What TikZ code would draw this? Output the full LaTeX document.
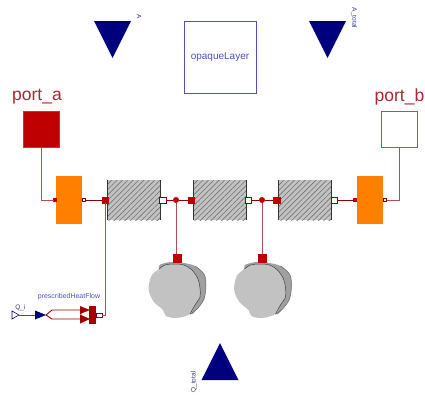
\documentclass[tikz,border=0pt]{standalone}
\usepackage{fontspec}
\setmainfont{Liberation Sans}
\usepackage{xcolor}
\usepackage{tikz}
\usetikzlibrary{shapes.geometric,patterns.meta}
\definecolor{heatred}{RGB}{191,0,0}
\definecolor{wirered}{RGB}{176,80,80}
\definecolor{titlered}{RGB}{165,40,50}
\definecolor{flowblue}{RGB}{0,0,127}
\definecolor{labelblue}{RGB}{80,80,190}
\definecolor{blobfront}{RGB}{194,194,194}
\definecolor{blobback}{RGB}{160,160,160}
\tikzset{
  wire/.style={draw=wirered,line width=0.9pt},
  portfull/.style={draw=heatred,fill=heatred,minimum size=#1,inner sep=0pt,outer sep=0pt},
  portopen/.style={draw=heatred!70!black,fill=white,line width=0.6pt,minimum size=#1,inner sep=0pt,outer sep=0pt},
  junction/.style={circle,fill=heatred,minimum size=6pt,inner sep=0pt,outer sep=0pt},
  orangebox/.style={fill=orange,minimum width=26pt,minimum height=48pt,inner sep=0pt,outer sep=0pt},
  slab/.style={fill=blobfront,minimum width=53pt,minimum height=40pt,inner sep=0pt,outer sep=0pt},
  flowtri/.style={isosceles triangle,isosceles triangle stretches,fill=flowblue,minimum width=37pt,minimum height=37pt,inner sep=0pt,outer sep=0pt},
  smalltext/.style={text=labelblue!70!black,font=\fontsize{6.5}{7}\selectfont,inner sep=0pt},
  porttext/.style={text=titlered,font=\fontsize{17.5}{20}\selectfont,inner sep=0pt},
  pics/blob/.style={code={
    \fill[blobback] plot[smooth cycle,tension=0.55] coordinates
      {(-18,11) (-12,5) (-3,4) (7,5) (18,8) (27,16) (29,27) (27,41) (20,51) (13,56) (0,40)};
    \draw[black!60,line width=0.5pt] plot[smooth,tension=0.55] coordinates
      {(18,8) (27,16) (29,27) (27,41) (20,51) (13,56)};
    \fill[blobfront] plot[smooth cycle,tension=0.55] coordinates
      {(-18,11) (-12,7) (-3,6) (7,7) (15,12) (21,21) (23,30) (23,39) (18,47) (13,56) (0,60) (-11,58) (-14,52) (-23,44) (-28,34) (-28,26) (-25,17)};
    \draw[black!75,line width=0.5pt] plot[smooth,tension=0.55] coordinates
      {(-18,11) (-12,7) (-3,6) (7,7) (15,12) (21,21) (23,30) (23,39) (18,47) (13,56)};
  }}
}
\begin{document}
\begin{tikzpicture}[x=1pt,y=-1pt]
  \useasboundingbox (0,0) rectangle (425,394);
  % Top row
  \node (areaA) [flowtri,shape border rotate=-90,anchor=apex] at (112.5,58) {};
  \node (areaAlabel) [smalltext,rotate=-90] at (139,17) {A};
  \node (opaqueLayer) [draw=labelblue,line width=0.8pt,minimum size=72pt,inner sep=0pt,text=labelblue,font=\fontsize{10}{12}\selectfont] at (220,57) {opaqueLayer};
  \node (areaTotal) [flowtri,shape border rotate=-90,anchor=apex] at (327.5,58) {};
  \node (areaTotallabel) [smalltext,rotate=-90] at (354,18) {A\_total};
  % Ports
  \node (port_a) [portfull=36pt,draw=heatred!80!white] at (41,129) {};
  \node (port_alabel) [porttext] at (37,97) {port\_a};
  \node (port_b) [portopen=36pt,draw=wirered,line width=0.9pt] at (399,129) {};
  \node (port_blabel) [porttext,anchor=east] at (424.5,97) {port\_b};
  % Orange resistances
  \node (resA) [orangebox] at (69,200) {};
  \node (resB) [orangebox] at (369.5,200) {};
  % Hatched layers
  \foreach \name/\xpos in {layer1/133.5,layer2/219.5,layer3/305}{
    \node (\name) [slab] at (\xpos,200) {};
    \fill[pattern={Lines[angle=45,distance=3.8pt,line width=0.6pt]},pattern color=black!55] (\name.south west) rectangle (\name.north east);
    \draw[black!80,line width=1pt] (\name.south west) -- (\name.north west);
    \draw[black!80,line width=1pt] (\name.south east) -- (\name.north east);
  }
  % Heat capacities
  \coordinate (cap1) at (177,258);
  \coordinate (cap2) at (262.5,258);
  \pic at (cap1) {blob};
  \pic at (cap2) {blob};
  % Heat flow source
  \node (Q_i) [isosceles triangle,isosceles triangle stretches,draw=flowblue,fill=white,line width=0.6pt,minimum width=8pt,minimum height=7pt,inner sep=0pt,outer sep=0pt,anchor=apex] at (19,315) {};
  \node (Q_ilabel) [smalltext] at (20.5,308) {Q\_i};
  \node (flowin) [isosceles triangle,isosceles triangle stretches,fill=flowblue,minimum width=9pt,minimum height=11pt,inner sep=0pt,outer sep=0pt,anchor=apex] at (46,315) {};
  \node (heatlabel) [smalltext,text=labelblue,font=\fontsize{7}{8}\selectfont] at (69,297) {prescribedHeatFlow};
  \draw[heatred!85!black,line width=0.9pt,fill=white] (46,315) -- (52,310) -- (81,310) -- (81,319) -- (52,319) -- cycle;
  \node (tipup) [isosceles triangle,isosceles triangle stretches,fill=heatred!85!black,minimum width=8pt,minimum height=10pt,inner sep=0pt,outer sep=0pt,anchor=apex] at (90,310) {};
  \node (tipdown) [isosceles triangle,isosceles triangle stretches,fill=heatred!85!black,minimum width=9pt,minimum height=10pt,inner sep=0pt,outer sep=0pt,anchor=apex] at (90,319) {};
  \node (flowbar) [fill=heatred!85!black,minimum width=6.5pt,minimum height=18pt,inner sep=0pt,outer sep=0pt] at (92.5,315) {};
  \node (flowout) [portopen=0pt,minimum width=6pt,minimum height=4pt] at (99,315) {};
  % Junctions and small ports
  \node (j1) [junction] at (176,200) {};
  \node (j2) [junction] at (262,200) {};
  \node (resAin) [portfull=3pt] at (55,200) {};
  \node (resAout) [portopen=3pt] at (84,200) {};
  \node (resBin) [portfull=3pt] at (355,200) {};
  \node (resBout) [portopen=3pt] at (385,200) {};
  \node (layer1in) [portfull=6.5pt] at (105,200) {};
  \node (layer1out) [portopen=6pt,minimum width=6.5pt] at (163,200) {};
  \node (layer2in) [portfull=6.5pt] at (191,200) {};
  \node (layer2out) [portopen=6pt,minimum width=6.5pt] at (248.5,200) {};
  \node (layer3in) [portfull=6.5pt] at (276.5,200) {};
  \node (layer3out) [portopen=6pt,minimum width=6.5pt] at (334.5,200) {};
  \node (cap1port) [portfull=8pt] at (cap1) {};
  \node (cap2port) [portfull=8pt] at (cap2) {};
  % arrows
  \draw[wire] (port_a.south) |- (resAin.west);
  \draw[wire] (port_b.south) |- (resBout.east);
  \draw[wire,heatred!75!black] (resAout.east) -- (layer1in.west);
  \draw[wire] (flowout.east) -| (layer1in.south);
  \draw[wire,heatred!75!black] (layer1out.east) -- (j1);
  \draw[wire,heatred!75!black] (j1) -- (layer2in.west);
  \draw[wire,heatred!75!black] (layer2out.east) -- (j2);
  \draw[wire,heatred!75!black] (j2) -- (layer3in.west);
  \draw[wire,heatred!75!black] (layer3out.east) -- (resBin.west);
  \draw[wire] (j1) -- (j1 |- cap1port.north);
  \draw[wire] (j2) -- (j2 |- cap2port.north);
  \draw[flowblue!70!white,line width=0.7pt] (Q_i.apex) -- (flowin.lower side);
  % Bottom
  \node (Q_total) [flowtri,shape border rotate=90,anchor=apex] at (220,343) {};
  \node (Q_totallabel) [smalltext,rotate=90] at (194,382) {Q\_total};
\end{tikzpicture}
\end{document}
